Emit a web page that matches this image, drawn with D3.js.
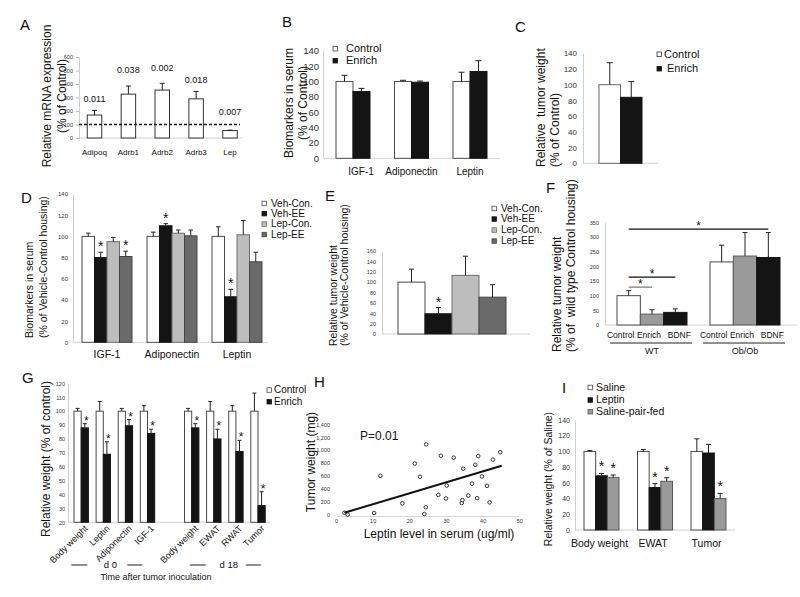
<!DOCTYPE html>
<html>
<head>
<meta charset="utf-8">
<script src="https://cdn.jsdelivr.net/npm/d3@7"></script>
<style>
  body { margin: 0; background: #fff; }
  svg { display: block; }
</style>
</head>
<body>
<svg id="chart" width="800" height="597"></svg>
<script>
// ================= DATA =================
// Panel A
const aGenes = ["Adipoq", "Adrb1", "Adrb2", "Adrb3", "Lep"];
const aValues = [170, 325, 355, 290, 55];
const aErrors = [35, 60, 50, 55, 3];
const aPLabels = ["0.011", "0.038", "0.002", "0.018", "0.007"];
const aPLabelLevel = [265, 480, 495, 410, 170];
const aTicks = [0, 100, 200, 300, 400, 500, 600];
const aReference = 100;

// Panel B
const bCategories = ["IGF-1", "Adiponectin", "Leptin"];
const bSeries = ["Control", "Enrich"];
const bControl = [100, 100, 100];
const bControlErr = [8, 1.5, 12];
const bEnrich = [87, 99, 113];
const bEnrichErr = [4, 1.5, 14];
const bTicks = [0, 20, 40, 60, 80, 100, 120, 140];

// Panel C
const cSeries = ["Control", "Enrich"];
const cValues = [100, 84];
const cErrors = [28, 20];
const cTicks = [0, 20, 40, 60, 80, 100, 120, 140];

// Panel D
const dCategories = ["IGF-1", "Adiponectin", "Leptin"];
const dSeries = ["Veh-Con.", "Veh-EE", "Lep-Con.", "Lep-EE"];
const dVehCon = [100, 100, 100];
const dVehConErr = [3, 4, 9];
const dVehEE = [80, 110, 43];
const dVehEEErr = [5, 2, 7];
const dLepCon = [95, 103, 101.5];
const dLepConErr = [4, 3, 13.5];
const dLepEE = [81, 100.5, 76];
const dLepEEErr = [5, 5.5, 9];
const dVehEEStars = [1, 1, 1];
const dLepEEStars = [1, 0, 0];
const dTicks = [0, 20, 40, 60, 80, 100, 120, 140];

// Panel E
const eSeries = ["Veh-Con.", "Veh-EE", "Lep-Con.", "Lep-EE"];
const eValues = [100, 39, 113, 71];
const eErrors = [25, 12, 37, 24];
const eStars = [0, 1, 0, 0];
const eTicks = [0, 20, 40, 60, 80, 100, 120, 140, 160];

// Panel F
const fGroups = ["WT", "Ob/Ob"];
const fTreatments = ["Control", "Enrich", "BDNF"];
const fControl = [100, 215];
const fControlErr = [17, 57];
const fEnrich = [37, 235];
const fEnrichErr = [15, 80];
const fBDNF = [43, 230];
const fBDNFErr = [12, 85];
const fBrackets = [
  { from: ["WT", 0], to: ["Ob/Ob", 2], level: 327 },
  { from: ["WT", 0], to: ["WT", 2], level: 163 },
  { from: ["WT", 0], to: ["WT", 1], level: 129 }
];
const fTicks = [0, 50, 100, 150, 200, 250, 300, 350];

// Panel G
const gSeries = ["Control", "Enrich"];
const gDays = ["d 0", "d 18"];
const gCategories = ["Body weight", "Leptin", "Adiponectin", "IGF-1", "Body weight", "EWAT", "RWAT", "Tumor"];
const gCategoryDay = ["d 0", "d 0", "d 0", "d 0", "d 18", "d 18", "d 18", "d 18"];
const gControl = [100, 100, 100, 100, 100, 100, 100, 100];
const gControlErr = [2, 7, 2, 4, 2, 7, 4, 13];
const gEnrich = [88, 69, 89.5, 84, 88, 80, 71, 32];
const gEnrichErr = [3, 9, 4.5, 3, 3, 7, 8, 10];
const gEnrichStars = [1, 1, 1, 1, 1, 1, 1, 1];
const gTicks = [20, 30, 40, 50, 60, 70, 80, 90, 100, 110, 120];

// Panel H
const hLeptin = [2.3, 3.2, 10.4, 12.1, 18.1, 21.5, 22.9, 24.1, 24.5, 24.6, 27.9, 28.6, 30.0, 30.2, 32.1,
                 34.3, 34.5, 34.7, 36.1, 37.1, 38.0, 38.5, 38.8, 39.8, 41.2, 41.9, 42.8, 44.8];
const hTumor = [35, 5, 30, 605, 180, 795, 590, 15, 120, 1090, 310, 915, 255, 455, 885,
                185, 230, 715, 300, 485, 775, 260, 910, 595, 450, 195, 855, 970];
const hFitIntercept = -4;
const hFitSlope = 16.9;
const hFitRange = [2.3, 45.2];
const hPText = "P=0.01";
const hXTicks = [0, 10, 20, 30, 40, 50];
const hYTicks = [0, 200, 400, 600, 800, 1000, 1200, 1400];

// Panel I
const iCategories = ["Body weight", "EWAT", "Tumor"];
const iSeries = ["Saline", "Leptin", "Saline-pair-fed"];
const iSaline = [100, 100, 100];
const iSalineErr = [1, 2.5, 16];
const iLeptin = [69, 54, 98];
const iLeptinErr = [3, 5, 11];
const iPairFed = [67, 62, 40];
const iPairFedErr = [3, 4.5, 6.5];
const iLeptinStars = [1, 1, 0];
const iPairFedStars = [1, 1, 1];
const iTicks = [0, 20, 40, 60, 80, 100, 120, 140];

// ================= DRAWING =================
const svg = d3.select("#chart");
const FONT = '"Liberation Sans", Arial, Helvetica, sans-serif';
const WHITE = { fill: "#ffffff", stroke: "#4a4a4a" };
const BLACK = { fill: "#141414", stroke: "#141414" };
const LIGHT = { fill: "#bdbdbd", stroke: "#6e6e6e" };
const DARKG = { fill: "#6a6a6a", stroke: "#444444" };
const MIDG = { fill: "#9a9a9a", stroke: "#5a5a5a" };

function text(x, y, s, size, o = {}) {
  const t = svg.append("text")
    .attr("x", x).attr("y", y)
    .attr("font-size", size)
    .attr("font-family", FONT)
    .attr("fill", o.fill || "#111")
    .text(s);
  if (o.anchor) t.attr("text-anchor", o.anchor);
  if (o.rotate) t.attr("transform", `rotate(${o.rotate},${x},${y})`);
  return t;
}

function line(x1, y1, x2, y2, stroke, w = 1, dash = null) {
  const l = svg.append("line")
    .attr("x1", x1).attr("y1", y1).attr("x2", x2).attr("y2", y2)
    .attr("stroke", stroke).attr("stroke-width", w);
  if (dash) l.attr("stroke-dasharray", dash);
  return l;
}

function leftAxis(scale, x, ticks, size, pad, tickSize = 0) {
  const g = svg.append("g").attr("transform", `translate(${x},0)`)
    .call(d3.axisLeft(scale).tickValues(ticks).tickSize(tickSize).tickSizeOuter(0).tickPadding(pad));
  g.select(".domain").attr("stroke", "#cfcfcf");
  g.selectAll(".tick line").attr("stroke", "#bbb");
  g.selectAll(".tick text").attr("font-size", size).attr("font-family", FONT).attr("fill", "#333");
  return g;
}

function yTitle(lines, xs, y, size, anchor) {
  lines.forEach((s, i) => text(xs[i], y, s, size, { anchor: anchor, rotate: -90 }));
}

// grouped bars
function bars(cfg) {
  const n = cfg.series.length;
  const inner = d3.scaleBand().domain(d3.range(n)).range([-cfg.groupWidth / 2, cfg.groupWidth / 2]);
  const y = cfg.y;
  const base = y(cfg.base !== undefined ? cfg.base : 0);
  const g = svg.append("g");
  const items = [];
  cfg.series.forEach((s, si) => {
    cfg.cats.forEach((c, ci) => {
      items.push({
        x: cfg.centers(c) + inner(si), w: inner.bandwidth(),
        v: s.values[ci], e: s.errors ? s.errors[ci] : 0,
        star: s.stars ? s.stars[ci] : 0, fill: s.fill, stroke: s.stroke
      });
    });
  });
  g.selectAll("rect").data(items).join("rect")
    .attr("x", d => d.x).attr("y", d => y(d.v))
    .attr("width", d => d.w).attr("height", d => base - y(d.v))
    .attr("fill", d => d.fill).attr("stroke", d => d.stroke).attr("stroke-width", 1);
  const cap = cfg.cap || 5;
  items.filter(d => d.e > 0).forEach(d => {
    const cx = d.x + d.w / 2;
    line(cx, y(d.v), cx, y(d.v + d.e), "#222", 1);
    line(cx - cap / 2, y(d.v + d.e), cx + cap / 2, y(d.v + d.e), "#222", 1);
  });
  items.filter(d => d.star).forEach(d => {
    const cx = d.x + d.w / 2 + (cfg.starDx || 0);
    text(cx, y(d.v + d.e) + cfg.starDy, "*", cfg.starSize, { anchor: "middle" });
  });
  return inner;
}

function legend(items, sqX, ys, sq, txtX, size) {
  items.forEach((it, i) => {
    svg.append("rect").attr("x", sqX).attr("y", ys[i] - sq - 1).attr("width", sq).attr("height", sq)
      .attr("fill", it.fill).attr("stroke", it.stroke).attr("stroke-width", 0.8);
    text(txtX, ys[i], it.label, size);
  });
}

// ---------- Panel letters ----------
[["A", 20, 30], ["B", 282, 27], ["C", 515, 32], ["D", 21, 203], ["E", 325, 201],
 ["F", 546, 193], ["G", 22, 383], ["H", 314, 387], ["I", 562, 393]]
  .forEach(([s, x, yy]) => text(x, yy, s, 15));

// ---------- Panel A ----------
{
  const y = d3.scaleLinear().domain([0, 600]).range([138, 57]);
  const x = d3.scalePoint().domain(aGenes).range([94.5, 230]);
  leftAxis(y, 79, aTicks, 5.5, 3, 3);
  line(79, y(0), 243, y(0), "#d0d0d0");
  bars({ cats: aGenes, centers: x, groupWidth: 14.5, y: y, cap: 5,
         series: [{ values: aValues, errors: aErrors, fill: WHITE.fill, stroke: "#333" }] });
  line(79, y(aReference), 240, y(aReference), "#111", 1.4, "3,2");
  aGenes.forEach((gname, i) => {
    text(x(gname), 155, gname, 8, { anchor: "middle" });
    text(x(gname), y(aPLabelLevel[i]), aPLabels[i], 9, { anchor: "middle" });
  });
  yTitle(["Relative mRNA expression", "(% of Control)"], [51, 66], 96, 12, "middle");
}

// ---------- Panel B ----------
{
  const y = d3.scaleLinear().domain([0, 140]).range([158.3, 50.7]);
  const x = d3.scalePoint().domain(bCategories).range([353, 470]);
  leftAxis(y, 323, bTicks, 9.5, 4);
  line(323, y(0), 500, y(0), "#d0d0d0");
  bars({ cats: bCategories, centers: x, groupWidth: 34, y: y, cap: 6,
         series: [{ values: bControl, errors: bControlErr, ...WHITE },
                  { values: bEnrich, errors: bEnrichErr, ...BLACK }] });
  bCategories.forEach(c => text(x(c) + (c === "IGF-1" ? 8 : 0), 175, c, 10, { anchor: "middle" }));
  legend([{ label: bSeries[0], ...WHITE }, { label: bSeries[1], ...BLACK }], 333, [52, 64], 4.5, 346, 11);
  yTitle(["Biomarkers in serum", "(% of Control)"], [293, 307], 103, 12, "middle");
}

// ---------- Panel C ----------
{
  const y = d3.scaleLinear().domain([0, 140]).range([163.3, 53.3]);
  const x = d3.scalePoint().domain(["all"]).range([620.5, 620.5]);
  leftAxis(y, 583, cTicks, 8, 6);
  line(583, y(0), 658, y(0), "#d0d0d0");
  bars({ cats: ["all"], centers: x, groupWidth: 43, y: y, cap: 6,
         series: [{ values: [cValues[0]], errors: [cErrors[0]], fill: "#fff", stroke: "#666" },
                  { values: [cValues[1]], errors: [cErrors[1]], ...BLACK }] });
  legend([{ label: cSeries[0], fill: "#fff", stroke: "#333" }], 657, [57.5], 4.5, 664, 11);
  legend([{ label: cSeries[1], ...BLACK }], 657, [72], 4.5, 667, 11);
  yTitle(["Relative\u00a0 tumor weight", "(% of Control)"], [545, 559], 167, 12, "start");
}

// ---------- Panel D ----------
{
  const y = d3.scaleLinear().domain([0, 140]).range([342.3, 194]);
  const x = d3.scalePoint().domain(dCategories).range([107, 237]);
  leftAxis(y, 73, dTicks, 6, 5);
  line(73, y(0), 268, y(0), "#d0d0d0");
  bars({ cats: dCategories, centers: x, groupWidth: 50, y: y, cap: 4.5, starSize: 14, starDy: -1,
         series: [{ values: dVehCon, errors: dVehConErr, ...WHITE },
                  { values: dVehEE, errors: dVehEEErr, stars: dVehEEStars, ...BLACK },
                  { values: dLepCon, errors: dLepConErr, ...LIGHT },
                  { values: dLepEE, errors: dLepEEErr, stars: dLepEEStars, ...DARKG }] });
  dCategories.forEach(c => text(x(c), 358, c, 10.5, { anchor: "middle" }));
  legend(dSeries.map((s, i) => ({ label: s, ...[WHITE, BLACK, LIGHT, DARKG][i] })),
         262, [206.7, 216.9, 227.3, 237.8], 4.5, 271, 10);
  yTitle(["Biomarkers in serum", "(% of Vehicle-Control housing)"], [33, 46.5], 338, 10.5, "start");
}

// ---------- Panel E ----------
{
  const y = d3.scaleLinear().domain([0, 160]).range([334, 251]);
  const x = d3.scalePoint().domain(["all"]).range([452, 452]);
  leftAxis(y, 382, eTicks, 5.5, 6);
  line(382, y(0), 530, y(0), "#d0d0d0");
  const cols = [WHITE, BLACK, LIGHT, DARKG];
  bars({ cats: ["all"], centers: x, groupWidth: 108, y: y, cap: 5, starSize: 14, starDy: -1,
         series: eValues.map((v, i) => ({ values: [v], errors: [eErrors[i]], stars: [eStars[i]], ...cols[i] })) });
  legend(eSeries.map((s, i) => ({ label: s, ...cols[i] })), 492, [211.7, 222.3, 233.3, 244.3], 4.5, 501, 10);
  yTitle(["Relative tumor weight", "(% of Vehicle-Control housing)"], [336.5, 347.5], 346, 10.5, "start");
}

// ---------- Panel F ----------
{
  const y = d3.scaleLinear().domain([0, 350]).range([325, 222.3]);
  const x = d3.scalePoint().domain(fGroups).range([652, 745]);
  leftAxis(y, 605, fTicks, 5.5, 6);
  line(605, y(0), 797, y(0), "#d0d0d0");
  const inner = bars({ cats: fGroups, centers: x, groupWidth: 70, y: y, cap: 5,
         series: [{ values: fControl, errors: fControlErr, ...WHITE },
                  { values: fEnrich, errors: fEnrichErr, ...MIDG },
                  { values: fBDNF, errors: fBDNFErr, ...BLACK }] });
  const bc = (grp, i) => x(grp) + inner(i) + inner.bandwidth() / 2;
  const labelShift = [-8, -3, 4];
  fGroups.forEach(gp => {
    fTreatments.forEach((t, i) => text(bc(gp, i) + labelShift[i], 338.3, t, 8.5, { anchor: "middle" }));
    line(x(gp) - 42, 343, x(gp) + 40, 343, "#222", 1);
    text(x(gp), 354, gp, 9, { anchor: "middle" });
  });
  fBrackets.forEach((b, k) => {
    const x1 = bc(b.from[0], b.from[1]), x2 = bc(b.to[0], b.to[1]);
    line(x1, y(b.level), x2, y(b.level), k === 2 ? "#777" : "#111", 1.2);
    text((x1 + x2) / 2, y(b.level) + 1, "*", 12, { anchor: "middle" });
  });
  yTitle(["Relative tumor weight", "(% of\u00a0 wild type Control housing)"], [561, 574.5], 352, 12, "start");
}

// ---------- Panel G ----------
{
  const keys = gCategories.map((c, i) => gCategoryDay[i] + "|" + c);
  const slots = keys.slice(0, 4).concat(["gap"], keys.slice(4));
  const y = d3.scaleLinear().domain([20, 120]).range([522.3, 383.4]);
  const x = d3.scalePoint().domain(slots).range([81.2, 258]);
  leftAxis(y, 68, gTicks, 5.5, 3);
  line(68, y(20), 270, y(20), "#d0d0d0");
  bars({ cats: keys, centers: x, groupWidth: 14.4, y: y, base: 20, cap: 4, starSize: 12, starDy: 1, starDx: 1.5,
         series: [{ values: gControl, errors: gControlErr, ...WHITE },
                  { values: gEnrich, errors: gEnrichErr, stars: gEnrichStars, ...BLACK }] });
  keys.forEach((k, i) => text(x(k) + 7, 529, gCategories[i], 9, { anchor: "end", rotate: -45 }));
  gDays.forEach((d, di) => {
    const ks = keys.filter((k, i) => gCategoryDay[i] === d);
    const cx = d3.mean(ks, k => x(k)) + (di === 0 ? -4 : 4);
    text(cx, 568, d, 9.5, { anchor: "middle" });
    line(cx - 39, 565, cx - 23, 565, "#222", 1);
    line(cx + 17, 565, cx + 32, 565, "#222", 1);
  });
  text(156, 580, "Time after tumor inoculation", 9, { anchor: "middle" });
  legend([{ label: gSeries[0], ...WHITE }, { label: gSeries[1], ...BLACK }], 267, [393.3, 405], 4.5, 274, 10);
  yTitle(["Relative weight (% of control)"], [50], 459, 12, "middle");
}

// ---------- Panel H ----------
{
  const x = d3.scaleLinear().domain([0, 50]).range([336, 519.3]);
  const y = d3.scaleLinear().domain([0, 1400]).range([515, 424.3]);
  const gx = svg.append("g").attr("transform", `translate(0,516)`)
    .call(d3.axisBottom(x).tickValues(hXTicks).tickSize(0).tickSizeOuter(0).tickPadding(3));
  gx.select(".domain").attr("stroke", "#d8d8d8");
  gx.selectAll(".tick text").attr("font-size", 5.5).attr("font-family", FONT).attr("fill", "#333");
  const gy = leftAxis(y, 336, hYTicks, 5.5, 6);
  gy.select(".domain").attr("stroke", "none");
  svg.append("g").selectAll("circle").data(hLeptin.map((v, i) => [v, hTumor[i]])).join("circle")
    .attr("cx", d => x(d[0])).attr("cy", d => y(d[1])).attr("r", 1.8)
    .attr("fill", "#fff").attr("stroke", "#222").attr("stroke-width", 0.9);
  line(x(hFitRange[0]), y(hFitIntercept + hFitSlope * hFitRange[0]),
       x(hFitRange[1]), y(hFitIntercept + hFitSlope * hFitRange[1]), "#111", 2);
  text(360, 440, hPText, 12);
  text(439, 538, "Leptin level in serum (ug/ml)", 12, { anchor: "middle" });
  yTitle(["Tumor weight (mg)"], [315], 462, 12, "middle");
}

// ---------- Panel I ----------
{
  const y = d3.scaleLinear().domain([0, 140]).range([530, 420]);
  const x = d3.scalePoint().domain(iCategories).range([601.5, 708.5]);
  leftAxis(y, 575, iTicks, 7, 5);
  line(575, y(0), 735, y(0), "#d0d0d0");
  bars({ cats: iCategories, centers: x, groupWidth: 35, y: y, cap: 5, starSize: 14, starDy: -2,
         series: [{ values: iSaline, errors: iSalineErr, ...WHITE },
                  { values: iLeptin, errors: iLeptinErr, stars: iLeptinStars, ...BLACK },
                  { values: iPairFed, errors: iPairFedErr, stars: iPairFedStars, ...MIDG }] });
  iCategories.forEach(c => text(x(c) - 2, 547, c, 10.5, { anchor: "middle" }));
  legend(iSeries.map((s, i) => ({ label: s, ...[WHITE, BLACK, MIDG][i] })), 588, [390.7, 403.3, 415], 4.5, 596, 10.5);
  yTitle(["Relative weight (% of Saline)"], [552], 479, 10.5, "middle");
}
</script>
</body>
</html>
